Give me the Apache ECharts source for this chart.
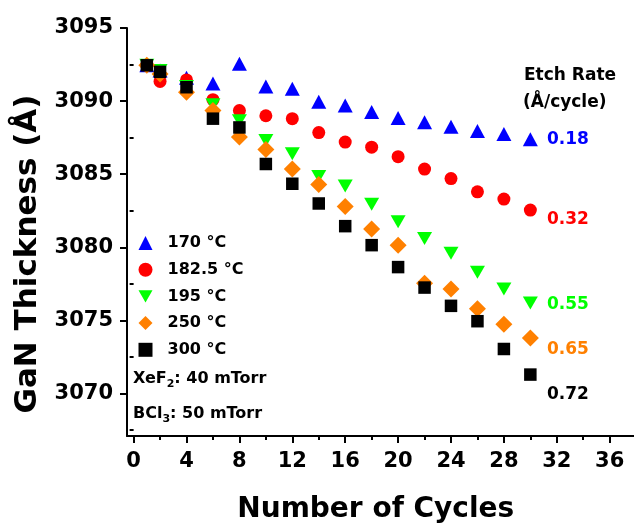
<!DOCTYPE html>
<html>
<head>
<meta charset="utf-8">
<script src="https://cdn.jsdelivr.net/npm/echarts@6/dist/echarts.min.js"></script>
<style>html,body{margin:0;padding:0;background:#fff;}#c{width:634px;height:529px;}</style>
</head>
<body>
<div id="c"></div>
<script>
// ---- data ----
const cycles = [1, 2, 4, 6, 8, 10, 12, 14, 16, 18, 20, 22, 24, 26, 28, 30];
const t170 = [3092.45, 3092.1, 3091.6, 3091.2, 3092.55, 3091.0, 3090.85, 3089.95, 3089.7, 3089.25, 3088.85, 3088.55, 3088.25, 3087.95, 3087.75, 3087.4];
const t182 = [3092.45, 3091.35, 3091.45, 3090.1, 3089.35, 3089.0, 3088.8, 3087.85, 3087.2, 3086.85, 3086.2, 3085.35, 3084.7, 3083.8, 3083.3, 3082.55];
const t195 = [3092.45, 3092.1, 3091.0, 3089.75, 3088.65, 3087.3, 3086.4, 3084.85, 3084.2, 3082.95, 3081.75, 3080.6, 3079.6, 3078.3, 3077.15, 3076.2];
const t250 = [3092.45, 3091.85, 3090.6, 3089.35, 3087.55, 3086.7, 3085.35, 3084.3, 3082.8, 3081.25, 3080.15, 3077.55, 3077.15, 3075.8, 3074.75, 3073.8];
const t300 = [3092.45, 3092.0, 3090.95, 3088.8, 3088.2, 3085.7, 3084.35, 3083.0, 3081.45, 3080.15, 3078.65, 3077.25, 3076.0, 3074.95, 3073.05, 3071.3];
const seriesNames = ['170 °C', '182.5 °C', '195 °C', '250 °C', '300 °C'];
const etchRates = ['0.18', '0.32', '0.55', '0.65', '0.72'];
const xTickLabels = [0, 4, 8, 12, 16, 20, 24, 28, 32, 36];
const xMinorTicks = [2, 6, 10, 14, 18, 22, 26, 30, 34];
const yTickLabels = [3070, 3075, 3080, 3085, 3090, 3095];
const yMinorTicks = [3067.5, 3072.5, 3077.5, 3082.5, 3087.5, 3092.5];

// ---- styling ----
const FONT = 'DejaVu Sans';
const colors = ['#0000ff', '#ff0000', '#00ff00', '#ff8000', '#000000'];
const DOWN_TRI = 'path://M0,0L15,0L7.5,13Z';
const symbols = ['triangle', 'circle', DOWN_TRI, 'diamond', 'rect'];
const symbolSizes = [[15, 14], 13, [15, 13], [17, 17], 12.5];
const values = [t170, t182, t195, t250, t300];

const chart = echarts.init(document.getElementById('c'), null, {renderer: 'canvas'});

const series = values.map((v, i) => ({
  name: seriesNames[i],
  type: 'scatter',
  xAxisIndex: 0,
  yAxisIndex: 0,
  data: cycles.map((c, j) => [c, v[j]]),
  symbol: symbols[i],
  symbolSize: symbolSizes[i],
  itemStyle: {color: colors[i], opacity: 1},
  z: 2 + i,
  emphasis: {disabled: true}
}));

const axisLineStyle = {color: '#000', width: 2};

const rateY = [142, 222, 307, 352, 397];
const graphics = [
  {type: 'text', left: 524, top: 67, style: {text: 'Etch Rate', font: 'bold 17px "DejaVu Sans"', fill: '#000'}},
  {type: 'text', left: 523, top: 94, style: {text: '(Å/cycle)', font: 'bold 17px "DejaVu Sans"', fill: '#000'}}
].concat(etchRates.map((r, i) => ({
  type: 'text', left: 547, top: rateY[i] - 11,
  style: {text: r, font: 'bold 17px "DejaVu Sans"', fill: colors[i]}
}))).concat([
  {type: 'text', left: 133, top: 371, style: {
    text: '{n|XeF}{s|2}{n|: 40 mTorr}',
    rich: {n: {fontFamily: FONT, fontWeight: 'bold', fontSize: 16, fill: '#000', color: '#000'},
           s: {fontFamily: FONT, fontWeight: 'bold', fontSize: 11, fill: '#000', color: '#000', padding: [10, 0, 0, 0]}}
  }},
  {type: 'text', left: 133, top: 406, style: {
    text: '{n|BCl}{s|3}{n|: 50 mTorr}',
    rich: {n: {fontFamily: FONT, fontWeight: 'bold', fontSize: 16, fill: '#000', color: '#000'},
           s: {fontFamily: FONT, fontWeight: 'bold', fontSize: 11, fill: '#000', color: '#000', padding: [10, 0, 0, 0]}}
  }}
]);

const legendIcons = ['triangle', 'circle', DOWN_TRI, 'diamond', 'rect'];

chart.setOption({
  animation: false,
  backgroundColor: '#fff',
  textStyle: {fontFamily: FONT},
  grid: {left: 127, right: 0.5, top: 28, bottom: 91, containLabel: false},
  xAxis: [{
    type: 'value', min: -0.5, max: 37.8,
    name: 'Number of Cycles', nameLocation: 'middle', nameGap: 60,
    nameTextStyle: {fontFamily: FONT, fontWeight: 'bold', fontSize: 28, color: '#000', padding: [0, 9, 0, 0]},
    axisLine: {show: true, onZero: false, lineStyle: axisLineStyle},
    axisTick: {show: true, length: 7, lineStyle: axisLineStyle, customValues: xTickLabels},
    axisLabel: {fontFamily: FONT, fontWeight: 'bold', fontSize: 21, color: '#000', margin: 15, customValues: xTickLabels},
    splitLine: {show: false}
  }, {
    type: 'value', min: -0.5, max: 37.8, position: 'bottom',
    axisLine: {show: false},
    axisTick: {show: true, length: 4, lineStyle: axisLineStyle, customValues: xMinorTicks},
    axisLabel: {show: false},
    splitLine: {show: false}
  }],
  yAxis: [{
    type: 'value', min: 3067.1, max: 3095,
    name: 'GaN Thickness (Å)', nameLocation: 'middle', nameGap: 77,
    nameTextStyle: {fontFamily: FONT, fontWeight: 'bold', fontSize: 31, color: '#000', padding: [0, 44, 0, 0]},
    axisLine: {show: true, onZero: false, lineStyle: axisLineStyle},
    axisTick: {show: true, length: 7, lineStyle: axisLineStyle, customValues: yTickLabels},
    axisLabel: {fontFamily: FONT, fontWeight: 'bold', fontSize: 21, color: '#000', margin: 14,
                customValues: yTickLabels, formatter: v => String(v)},
    splitLine: {show: false}
  }, {
    type: 'value', min: 3067.1, max: 3095, position: 'left',
    axisLine: {show: false},
    axisTick: {show: true, length: 4, lineStyle: axisLineStyle, customValues: yMinorTicks},
    axisLabel: {show: false},
    splitLine: {show: false}
  }],
  legend: {
    orient: 'vertical', left: 133.5, top: 230,
    itemWidth: 14, itemHeight: 14, itemGap: 10.7,
    data: seriesNames.map((n, i) => ({name: n, icon: legendIcons[i]})),
    textStyle: {fontFamily: FONT, fontWeight: 'bold', fontSize: 16, color: '#000', padding: [0, 0, 0, 10]},
    selectedMode: false
  },
  series: series,
  graphic: graphics
});
</script>
</body>
</html>
